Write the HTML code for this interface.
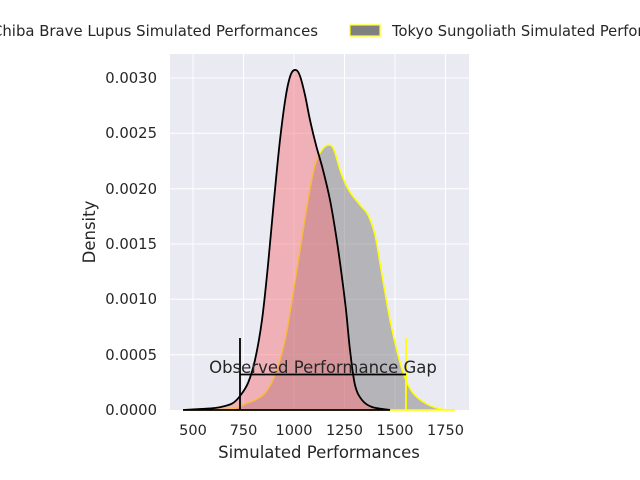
<!DOCTYPE html>
<html><head><style>body{margin:0;background:#fff}svg{display:block}</style></head><body>
<svg width="640" height="480" xmlns="http://www.w3.org/2000/svg" font-family="DejaVu Sans, Liberation Sans, sans-serif" fill="#262626">
<rect x="170" y="54" width="299" height="356" fill="#eaeaf2"/>
<g stroke="#fff" stroke-width="1">
<line x1="193" y1="54" x2="193" y2="410"/><line x1="243.5" y1="54" x2="243.5" y2="410"/><line x1="294" y1="54" x2="294" y2="410"/><line x1="344.5" y1="54" x2="344.5" y2="410"/><line x1="395" y1="54" x2="395" y2="410"/><line x1="445.5" y1="54" x2="445.5" y2="410"/>
<line x1="170" y1="78" x2="469" y2="78"/><line x1="170" y1="133.3" x2="469" y2="133.3"/><line x1="170" y1="188.7" x2="469" y2="188.7"/><line x1="170" y1="244" x2="469" y2="244"/><line x1="170" y1="299.3" x2="469" y2="299.3"/><line x1="170" y1="354.7" x2="469" y2="354.7"/>
</g>
<path id="yel" fill="#808080" fill-opacity="0.5" stroke="#ffff00" stroke-width="1.5"/>
<path id="red" fill="#f6767e" fill-opacity="0.5" stroke="#000" stroke-width="1.8"/>
<line x1="240" y1="338" x2="240" y2="410" stroke="#000" stroke-width="1.8"/>
<line x1="406" y1="338" x2="406" y2="410" stroke="#ffff00" stroke-width="1.8"/>
<line x1="240" y1="374.5" x2="406" y2="374.5" stroke="#000" stroke-width="1.8"/>
<text x="323" y="373" font-size="16.5" text-anchor="middle">Observed Performance Gap</text>
<g font-size="14.5" text-anchor="middle">
<text x="193" y="435">500</text><text x="243.5" y="435">750</text><text x="294" y="435">1000</text><text x="344.5" y="435">1250</text><text x="395" y="435">1500</text><text x="445.5" y="435">1750</text>
</g>
<g font-size="14.8" text-anchor="end">
<text x="157" y="83">0.0030</text><text x="157" y="138">0.0025</text><text x="157" y="194">0.0020</text><text x="157" y="249">0.0015</text><text x="157" y="304">0.0010</text><text x="157" y="360">0.0005</text><text x="157" y="415">0.0000</text>
</g>
<text x="319" y="458" font-size="16.5" text-anchor="middle">Simulated Performances</text>
<text transform="translate(95,232) rotate(-90)" font-size="16.5" text-anchor="middle">Density</text>
<g font-size="14.7">
<text x="318" y="36" text-anchor="end" textLength="326" lengthAdjust="spacingAndGlyphs">Chiba Brave Lupus Simulated Performances</text>
<rect x="350" y="25" width="30" height="11" fill="#808080" stroke="#ffff00" stroke-width="1.2"/>
<text x="392" y="36">Tokyo Sungoliath Simulated Performances</text>
</g>
</svg>
<script>
function cr(p){var d="M"+p[0][0]+","+p[0][1];for(var i=0;i<p.length-1;i++){var a=p[i-1]||p[i],b=p[i],c=p[i+1],e=p[i+2]||c;d+=" C"+(b[0]+(c[0]-a[0])/6)+","+(b[1]+(c[1]-a[1])/6)+" "+(c[0]-(e[0]-b[0])/6)+","+(c[1]-(e[1]-b[1])/6)+" "+c[0]+","+c[1];}return d+" Z";}
var Y=[[185,410],[230,409],[245,404],[255,400],[265,393],[275,375],[285,340],[292,300],[300,250],[308,200],[315,165],[322,150],[329,145],[334,150],[340,170],[346,185],[352,195],[360,205],[368,215],[375,235],[382,275],[390,320],[398,355],[405,378],[413,393],[425,403],[440,409],[455,410]];
var R=[[183,410],[200,409],[215,408],[225,406],[233,403],[240,396],[248,383],[255,360],[262,320],[268,265],[274,200],[280,140],[286,95],[291,74],[296,70],[300,76],[305,95],[310,120],[316,145],[323,170],[330,200],[336,235],[341,270],[346,310],[350,350],[355,385],[362,400],[372,407],[390,410]];
document.getElementById("yel").setAttribute("d",cr(Y));
document.getElementById("red").setAttribute("d",cr(R));
</script>
</body></html>
